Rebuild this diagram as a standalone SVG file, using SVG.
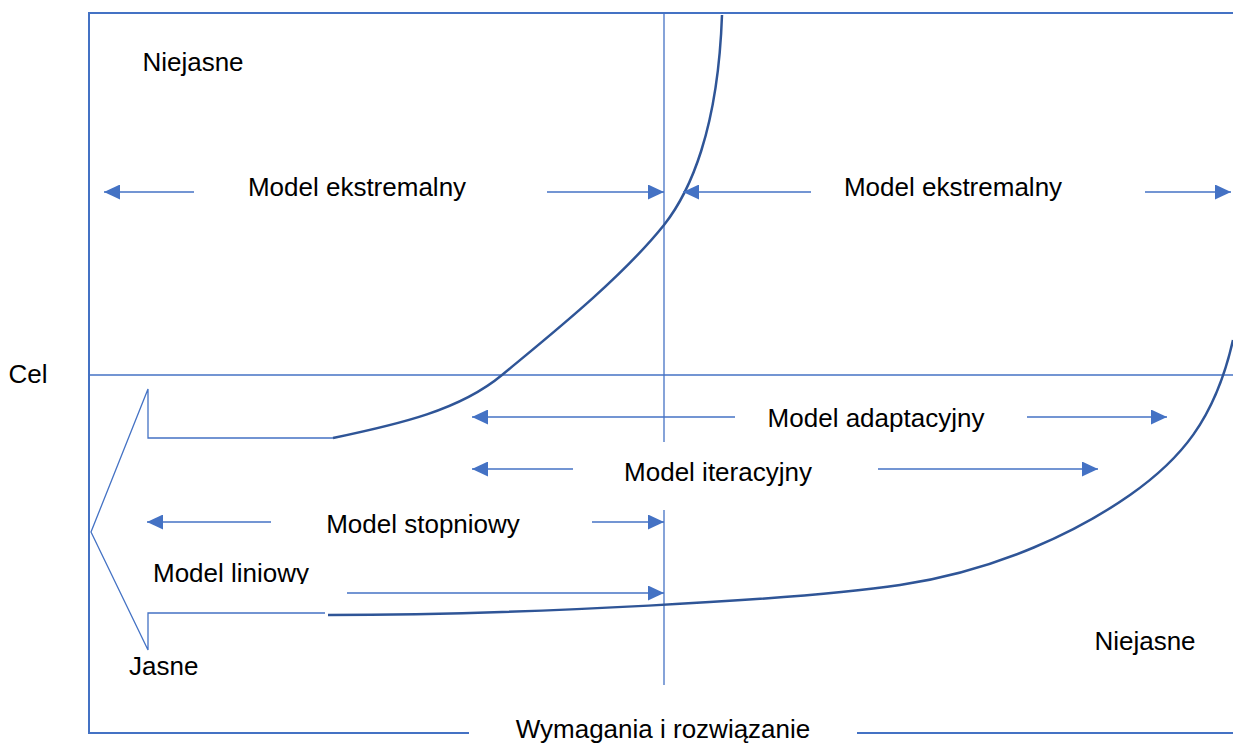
<svg xmlns="http://www.w3.org/2000/svg" width="1233" height="744" viewBox="0 0 1233 744">
  <style>
    .frame { fill: none; stroke: #4472C4; stroke-width: 2; }
    .grid { fill: none; stroke: #4472C4; stroke-width: 1.3; }
    .arrow { fill: none; stroke: #4472C4; stroke-width: 1.5; marker-end: url(#head); }
    .curve { fill: none; stroke: #2F5597; stroke-width: 2.5; }
    .lbl { font-family: "Liberation Sans", Arial, sans-serif; font-size: 26px; fill: #000; }
    .mid { text-anchor: middle; }
  </style>
  <defs>
    <marker id="head" markerUnits="userSpaceOnUse" markerWidth="16" markerHeight="15" refX="16" refY="7.5" orient="auto">
      <path d="M0,0 L16,7.5 L0,15 Z" fill="#4472C4"/>
    </marker>
    <clipPath id="clipLiniowy">
      <rect x="140" y="550" width="200" height="34"/>
    </clipPath>
  </defs>

  <rect width="1233" height="744" fill="#fff"/>

  <!-- outer frame and axes -->
  <g id="frame">
    <path class="frame" d="M1233,13 H89 V733 H469"/>
    <path class="frame" d="M857,733 H1233"/>
    <path class="grid" d="M89,375 H1233"/>
    <path class="grid" d="M664,13 V442"/>
    <path class="grid" d="M664,510 V685"/>
  </g>

  <!-- large hollow arrow pointing to the clear side -->
  <g id="big-arrow">
    <path class="grid" d="M333,438 H148 V389 L91,532 L148,650 V613 H325"/>
  </g>

  <!-- boundary curves -->
  <g id="curves">
    <path class="curve" d="M333,438 C400,424 460,410 502,375 C544,340 620,280 664,225 C690,192 718,130 722,15"/>
    <path class="curve" d="M328,615 C520,615 800,600 900,585 C1000,570 1080,530 1130,495 C1180,460 1215,420 1233,340"/>
  </g>

  <!-- range arrows -->
  <g id="connectors">
    <path class="arrow" d="M194,192 H104"/>
    <path class="arrow" d="M547,192 H664"/>
    <path class="arrow" d="M811,192 H683"/>
    <path class="arrow" d="M1145,192 H1231"/>
    <path class="arrow" d="M735,417 H472"/>
    <path class="arrow" d="M1027,417 H1167"/>
    <path class="arrow" d="M573,469 H472"/>
    <path class="arrow" d="M878,469 H1098"/>
    <path class="arrow" d="M271,522 H147"/>
    <path class="arrow" d="M592,522 H664"/>
    <path class="arrow" d="M347,593 H664"/>
  </g>

  <!-- labels -->
  <g id="label-niejasne-top"><text class="lbl mid" x="193" y="71">Niejasne</text></g>
  <g id="label-ekstremalny-left"><text class="lbl mid" x="357" y="196">Model ekstremalny</text></g>
  <g id="label-ekstremalny-right"><text class="lbl mid" x="953" y="196">Model ekstremalny</text></g>
  <g id="label-cel"><text class="lbl mid" x="28" y="383">Cel</text></g>
  <g id="label-adaptacyjny"><text class="lbl mid" x="876" y="427">Model adaptacyjny</text></g>
  <g id="label-iteracyjny"><text class="lbl mid" x="718" y="481">Model iteracyjny</text></g>
  <g id="label-stopniowy"><text class="lbl mid" x="423" y="533">Model stopniowy</text></g>
  <g id="label-liniowy" clip-path="url(#clipLiniowy)"><text class="lbl" x="153" y="582">Model liniowy</text></g>
  <g id="label-jasne"><text class="lbl" x="129" y="675">Jasne</text></g>
  <g id="label-niejasne-bottom"><text class="lbl mid" x="1145" y="650">Niejasne</text></g>
  <g id="label-axis"><text class="lbl mid" x="663" y="738">Wymagania i rozwiązanie</text></g>
</svg>
